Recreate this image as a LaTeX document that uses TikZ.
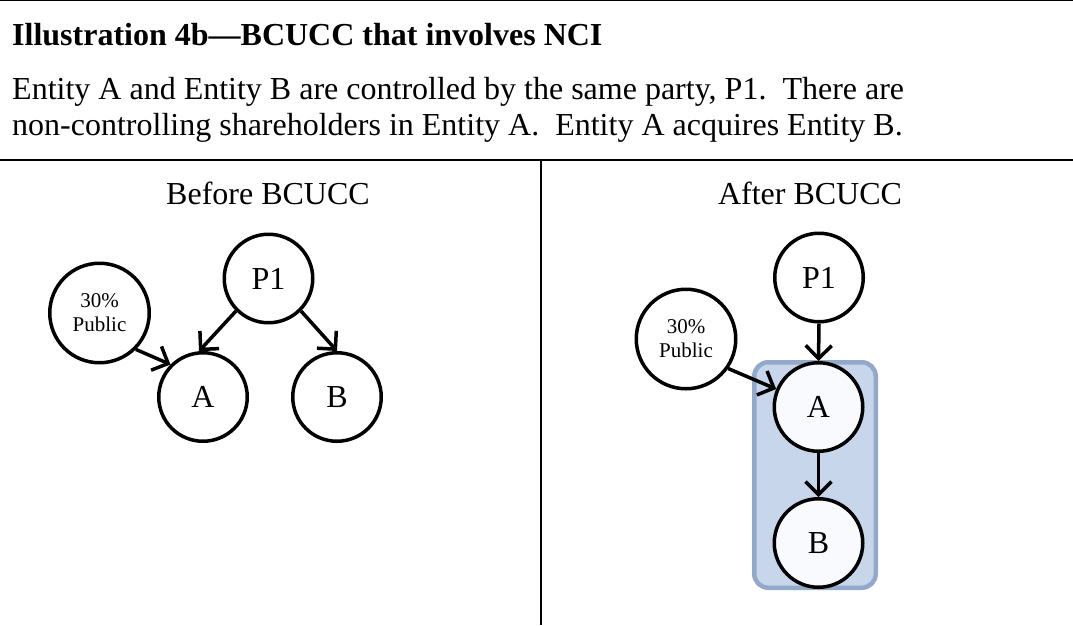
\documentclass[tikz,border=0pt]{standalone}
\usepackage{fontspec}
\setmainfont{Liberation Serif}
\usetikzlibrary{arrows.meta}
\definecolor{grpfill}{RGB}{199,214,235}
\definecolor{grpedge}{RGB}{146,169,201}
\definecolor{entfill}{RGB}{249,250,253}
\begin{document}
\begin{tikzpicture}[x=1pt,y=-1pt,
  every node/.style={font=\fontsize{32}{36}\selectfont},
  txt/.style={inner sep=0pt},
  ent/.style={circle, draw, line width=3.5pt, fill=white, minimum size=88.5pt, inner sep=0pt},
  pub/.style={ent, minimum size=99.5pt, align=center, font=\fontsize{21}{24}\selectfont},
  own/.style={-{Straight Barb[length=13pt,width=26pt]}, line width=3.5pt},
  rulel/.style={line width=2pt},
  grpbox/.style={draw=grpedge, fill=grpfill, line width=4.5pt, rounded corners=14pt,
                 minimum width=121.5pt, minimum height=225.5pt, inner sep=0pt}]
\useasboundingbox (0,0) rectangle (1073,625);

% frame rules
\draw[rulel] (0,0) -- (1073,0);
\draw[rulel] (0,160) -- (1073,160);
\draw[rulel] (541,160) -- (541,625);

% heading and description
\node[txt, anchor=base west, font=\fontsize{32}{36}\selectfont\bfseries] (title) at (12,45)
  {Illustration 4b---BCUCC that involves NCI};
\node[txt, anchor=base west] (desc1) at (12,99)
  {Entity A and Entity B are controlled by the same party, P1.\ \ There are};
\node[txt, anchor=base west] (desc2) at (12,135)
  {non-controlling shareholders in Entity A.\ \ Entity A acquires Entity B.};

% left panel: before the combination
\node[txt, anchor=base] (hdrL) at (268,204) {Before BCUCC};
\node[pub] (pubL) at (99.5,313) {30\%\\Public};
\node[ent] (p1L) at (268.5,278.5) {P1};
\node[ent] (aL) at (203,397) {A};
\node[ent] (bL) at (337,397) {B};
\draw[own] (p1L.-135) -- (aL.95);
\draw[own] (p1L.-45) -- (bL.north);
\draw[own] (pubL.-45) -- (aL.135);

% right panel: after the combination
\node[txt, anchor=base] (hdrR) at (810,204) {After BCUCC};
\node[grpbox] (grp) at (815,475) {};
\node[pub] (pubR) at (686,339) {30\%\\Public};
\node[ent] (p1R) at (819,277.5) {P1};
\node[ent, fill=entfill] (aR) at (818.5,407) {A};
\node[ent, fill=entfill] (bR) at (818.5,543) {B};
\draw[own] (p1R.south) -- (aR.north);
\draw[own] (aR.south) -- (bR.north);
\draw[own] (pubR.-35) -- (aR.157);
\end{tikzpicture}
\end{document}
